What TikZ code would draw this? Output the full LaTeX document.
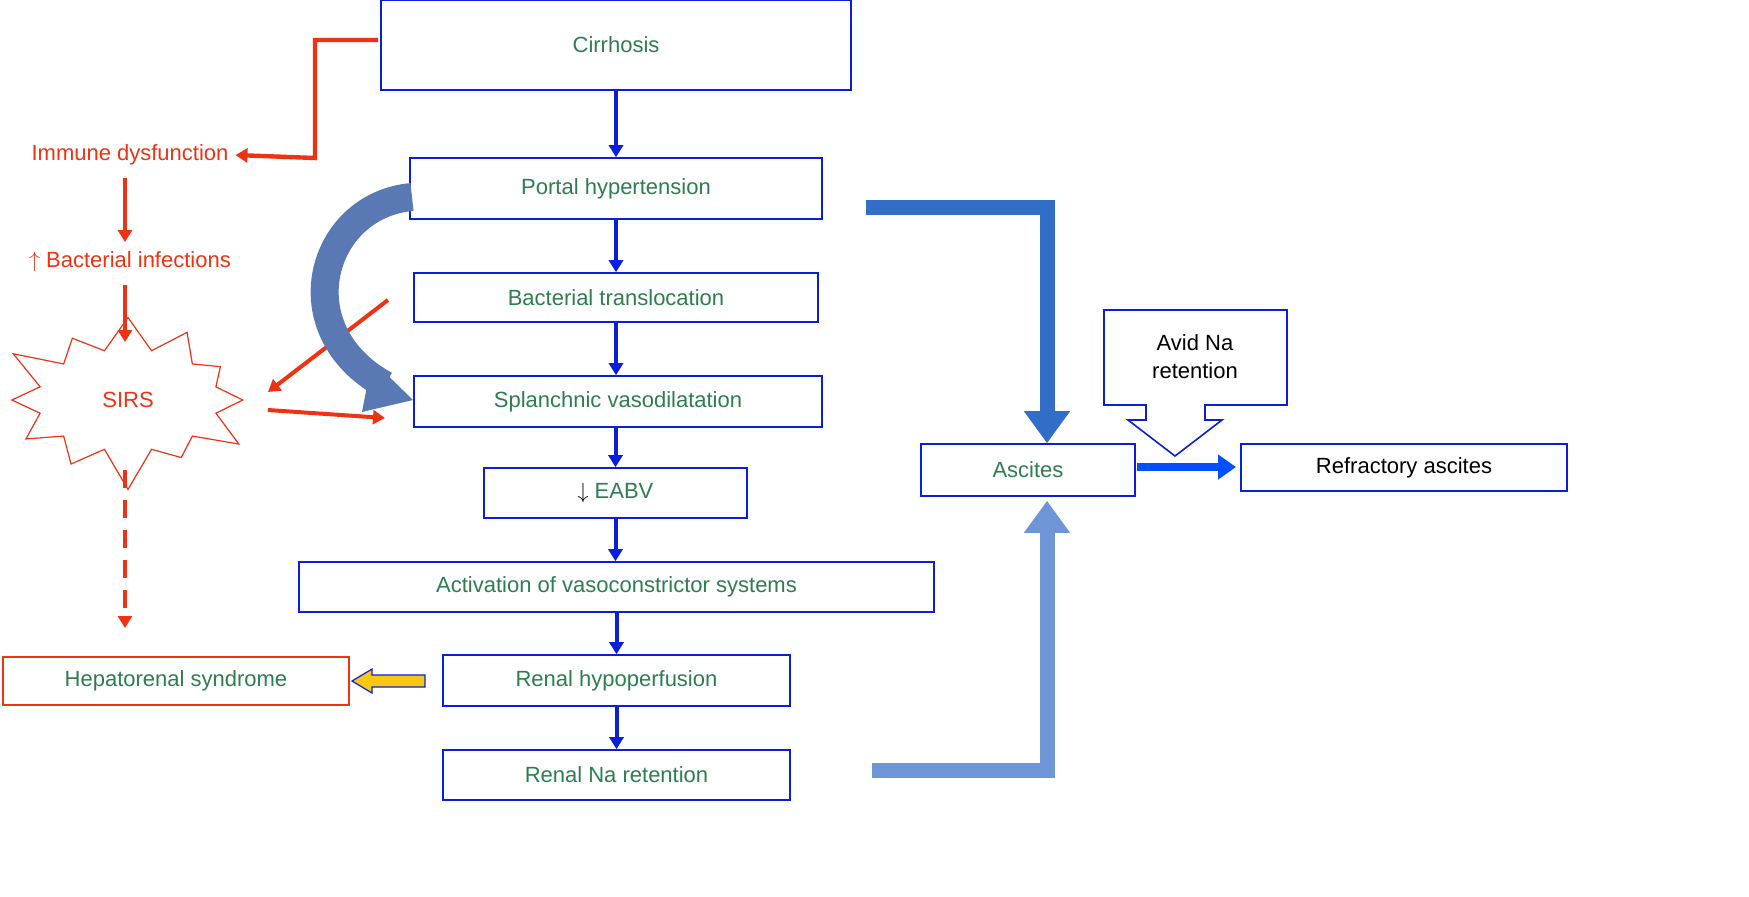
\documentclass[tikz,border=0pt]{standalone}
\usepackage{fontspec}
\setmainfont{Liberation Sans}
\usetikzlibrary{arrows.meta,shapes.symbols}
\definecolor{tg}{RGB}{46,125,80}
\definecolor{bb}{RGB}{10,30,220}
\definecolor{rr}{RGB}{240,50,20}
\definecolor{sb}{RGB}{90,120,180}
\definecolor{ab}{RGB}{50,110,200}
\definecolor{lb}{RGB}{110,150,215}
\definecolor{yb}{RGB}{250,200,20}
\definecolor{rb}{RGB}{0,80,255}
\begin{document}
\begin{tikzpicture}[x=0.5pt,y=-0.5pt,
  box/.style={draw=bb,line width=0.8pt,text=tg,font=\fontsize{11}{13}\selectfont,anchor=center,inner sep=0pt},
  barr/.style={draw=bb,line width=2pt,-{Triangle[length=6pt,width=7pt]}},
  rarr/.style={draw=rr,line width=2pt,-{Triangle[length=6pt,width=7pt]}},
  rtxt/.style={text=rr,font=\fontsize{11}{13}\selectfont}]
\node[box,minimum width=235pt,minimum height=45pt] (cir) at (616,45) {Cirrhosis};
\node[box,minimum width=206pt,minimum height=30.5pt] (ph) at (616,188.5) {Portal hypertension};
\node[box,minimum width=202pt,minimum height=24.5pt] (bt) at (616,297.5) {Bacterial translocation};
\node[box,minimum width=204pt,minimum height=25.5pt] (sv) at (618,401.5) {Splanchnic vasodilatation};
\node[box,minimum width=131.5pt,minimum height=25pt] (ea) at (615.5,493) {\textcolor{black}{$\downarrow$} EABV};
\node[box,minimum width=317.5pt,minimum height=25pt] (av) at (616.5,587) {Activation of vasoconstrictor systems};
\node[box,minimum width=173.5pt,minimum height=25.5pt] (rh) at (616.5,680.5) {Renal hypoperfusion};
\node[box,minimum width=173.5pt,minimum height=25pt] (rn) at (616.5,775) {Renal Na retention};
\node[box,draw=rr,minimum width=173pt,minimum height=24pt] (hr) at (176,681) {Hepatorenal syndrome};
\node[box,minimum width=107pt,minimum height=26pt] (as) at (1028,470) {Ascites};
\node[box,text=black,minimum width=163pt,minimum height=23.5pt] (ra) at (1404,467.5) {Refractory ascites};
% avid Na callout
\draw[bb,line width=0.8pt,fill=white] (1104,310) -- (1287,310) -- (1287,405) -- (1205,405) -- (1205,420) -- (1222,420) -- (1175,456) -- (1128,420) -- (1146,420) -- (1146,405) -- (1104,405) -- cycle;
\node[align=center,font=\fontsize{11}{14}\selectfont] (avid) at (1195,357) {Avid Na\\retention};
% vertical blue arrows
\draw[barr] (cir.south) -- (ph.north);
\draw[barr] (ph.south) -- (bt.north);
\draw[barr] (bt.south) -- (bt.south |- sv.north);
\draw[barr] (ea.north |- sv.south) -- (ea.north);
\draw[barr] (ea.south) -- (ea.south |- av.north);
\draw[barr] (av.south -| rh.north) -- (rh.north);
\draw[barr] (rh.south) -- (rn.north);
% red side
\node[rtxt] (im) at (130,155) {Immune dysfunction};
\node[rtxt] (bi) at (130,262) {$\uparrow$ Bacterial infections};
\node[starburst,starburst points=12,starburst point height=22pt,draw=rr,line width=0.6pt,minimum width=135pt,minimum height=95pt,text=rr,font=\fontsize{11}{13}\selectfont] (sirs) at (128,400) {SIRS};
\coordinate (c0) at (378,40);
\coordinate (c1) at (315,40); \coordinate (c2) at (315,158);
\draw[rarr,line width=2.2pt] (c0) -- (c1) -- (c2) -- (im.east);
\coordinate (d1) at (125,178); \coordinate (d2) at (125,242);
\draw[rarr] (d1) -- (d2);
\coordinate (e1) at (125,285); \coordinate (e2) at (125,342);
\draw[rarr] (e1) -- (e2);
\coordinate (f1) at (125,470); \coordinate (f2) at (125,628);
\draw[rarr,dashed,dash pattern=on 9pt off 6pt] (f1) -- (f2);
\coordinate (rs) at (388,300); \coordinate (re) at (268,392);
\draw[rarr] (rs) -- (re);
\coordinate (r2s) at (268,410); \coordinate (r2e) at (385,418);
\draw[rarr] (r2s) -- (r2e);
% curved thick arrow
\draw[sb,line width=14pt] (412,197) .. controls (320,205) and (285,330) .. (385,385);
\fill[sb] (372,360) -- (413,400) -- (362,412) -- cycle;
% portal -> ascites
\coordinate (p1) at (866,207); \coordinate (p2) at (1047,207);
\draw[ab,line width=7.5pt,-{Triangle[length=16pt,width=22pt]}] (p1) -- (p2) -- (as.north -| p2);
\coordinate (q1) at (872,770); \coordinate (q2) at (1047,770);
\draw[lb,line width=7.5pt,-{Triangle[length=16pt,width=22pt]}] (q1) -- (q2) -- ([yshift=-2pt]as.south -| q2);
\coordinate (g1) at (1137,467); \coordinate (g2) at (1236,467);
\draw[rb,line width=4pt,-{Triangle[length=9pt,width=12pt]}] (g1) -- (g2);
% yellow block arrow
\draw[bb,fill=yb,line width=0.6pt] (425,675) -- (372,675) -- (372,669) -- (352,681) -- (372,693) -- (372,687) -- (425,687) -- cycle;
\pgfresetboundingbox
\useasboundingbox (0,0) rectangle (1749,896);
\end{tikzpicture}
\end{document}
